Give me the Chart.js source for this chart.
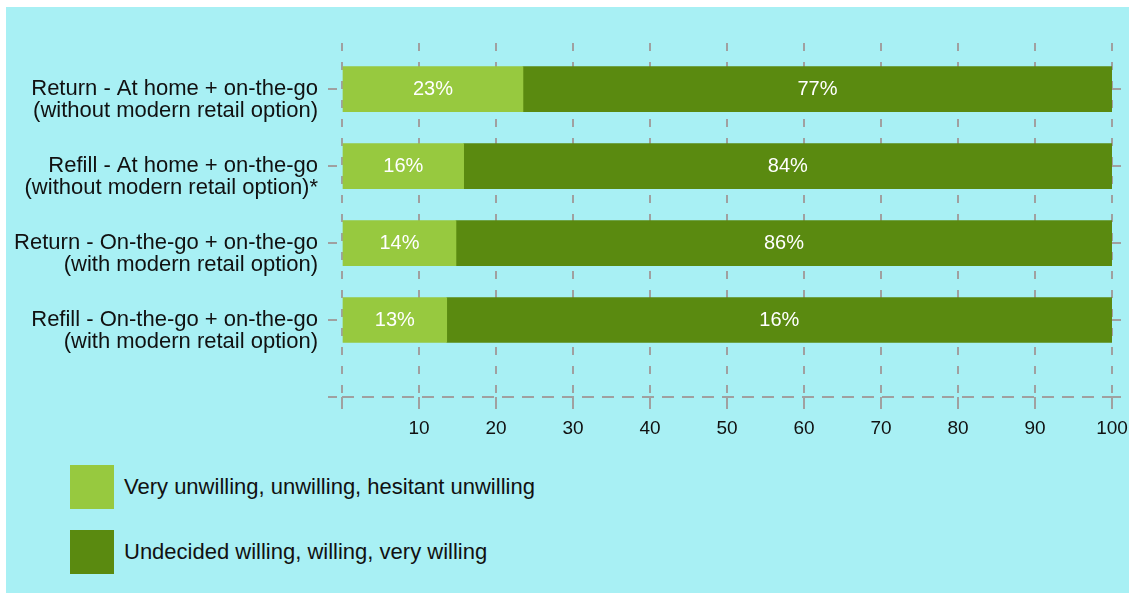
<!DOCTYPE html>
<html>
<head>
<meta charset="utf-8">
<script src="https://cdn.jsdelivr.net/npm/chart.js@4/dist/chart.umd.min.js"></script>
<style>
	body { margin: 0; background: #fff; }
	#panel {
		position: absolute; left: 6px; top: 7px; width: 1123px; height: 586px;
		background: #a8f0f4; font-family: "Liberation Sans", Arial, sans-serif;
	}
	#chart-cont { position: absolute; left: 0; top: 0; width: 1123px; height: 440px; }
	#legend { position: absolute; left: 64px; top: 458px; list-style: none; margin: 0; padding: 0; }
	#legend li { display: flex; align-items: center; height: 44px; margin-bottom: 21px; font-size: 22px; color: #111; }
	#legend .swatch { width: 44px; height: 44px; margin-right: 10px; }
</style>
</head>
<body>
<div id="panel">
	<div id="chart-cont"><canvas id="chart"></canvas></div>
	<ul id="legend"></ul>
</div>
<script>
const categories = [
	['Return - At home + on-the-go', '(without modern retail option)'],
	['Refill - At home + on-the-go', '(without modern retail option)*'],
	['Return - On-the-go + on-the-go', '(with modern retail option)'],
	['Refill - On-the-go + on-the-go', '(with modern retail option)'],
]
const seriesNames = ['Very unwilling, unwilling, hesitant unwilling', 'Undecided willing, willing, very willing']
const unwillingValues = [23.5, 15.8, 14.8, 13.6]
const willingValues = [76.5, 84.2, 85.2, 86.4]
// labels as printed on the bars (last one reads 16% in the source)
const unwillingLabels = ['23%', '16%', '14%', '13%']
const willingLabels = ['77%', '84%', '86%', '16%']
const xTicks = [0, 10, 20, 30, 40, 50, 60, 70, 80, 90, 100]
const colors = ['#97c93f', '#5a8a10']

const grey = '#a0a0a0'
const font = "'Liberation Sans', Arial, sans-serif"

const toPoints = vals => vals.map((v, i) => ({x: v, y: i}))
const catTicks = axis => {
	axis.ticks = categories.map((c, i) => ({value: i})).concat([{value: categories.length}])
}

const barLabels = {
	id: 'barLabels',
	afterDatasetsDraw(chart) {
		const ctx = chart.ctx
		const texts = [unwillingLabels, willingLabels]
		ctx.save()
		ctx.fillStyle = '#fff'
		ctx.font = '20px ' + font
		ctx.textAlign = 'center'
		ctx.textBaseline = 'middle'
		chart.data.datasets.forEach((ds, d) => {
			chart.getDatasetMeta(d).data.forEach((bar, i) => {
				const p = bar.getCenterPoint()
				ctx.fillText(texts[d][i], p.x, p.y)
			})
		})
		ctx.restore()
	}
}

const chart = new Chart(document.getElementById('chart'), {
	type: 'bar',
	data: {
		datasets: [
			{label: seriesNames[0], data: toPoints(unwillingValues), backgroundColor: colors[0]},
			{label: seriesNames[1], data: toPoints(willingValues), backgroundColor: colors[1]},
		]
	},
	options: {
		indexAxis: 'y',
		responsive: true,
		maintainAspectRatio: false,
		animation: false,
		barThickness: 45,
		layout: {padding: {top: 36, left: 0, right: 0, bottom: 0}},
		plugins: {legend: {display: false}, tooltip: {enabled: false}},
		scales: {
			x: {
				type: 'linear',
				stacked: true,
				min: 0,
				max: 100,
				afterBuildTicks: axis => { axis.ticks = xTicks.map(v => ({value: v})) },
				afterFit: axis => {
					axis.height = 50
					axis.paddingLeft = 0
					axis.paddingRight = 0
				},
				ticks: {
					callback: v => v === 0 ? '' : v,
					color: '#111',
					padding: 5,
					font: {family: font, size: 19}
				},
				grid: {color: grey, lineWidth: 2, tickLength: 15, tickBorderDash: [12, 4], tickColor: grey},
				border: {display: false, dash: [8, 11]}
			},
			y: {
				type: 'linear',
				stacked: true,
				reverse: true,
				offset: false,
				min: -0.6,
				max: 4,
				afterBuildTicks: catTicks,
				afterFit: axis => { axis.width = 336 },
				ticks: {
					callback: v => categories[v] || '',
					color: '#111',
					padding: 10,
					labelOffset: 11,
					font: {family: font, size: 22, lineHeight: 1.0}
				},
				grid: {
					offset: false,
					color: ctx => ctx.tick && ctx.tick.value === categories.length ? grey : 'transparent',
					tickColor: grey,
					lineWidth: 2,
					tickLength: 14,
					tickBorderDash: [9, 5]
				},
				border: {display: false, dash: [12, 8]}
			},
			y2: {
				type: 'linear',
				position: 'right',
				reverse: true,
				offset: false,
				min: -0.6,
				max: 4,
				afterBuildTicks: catTicks,
				afterFit: axis => { axis.width = 17 },
				ticks: {display: false},
				grid: {offset: false, drawOnChartArea: false, tickColor: grey, lineWidth: 2, tickLength: 14, tickBorderDash: [9, 5]},
				border: {display: false}
			}
		}
	},
	plugins: [barLabels]
})

// legend built from the datasets
const legend = document.getElementById('legend')
chart.data.datasets.forEach(ds => {
	const li = document.createElement('li')
	const sw = document.createElement('span')
	sw.className = 'swatch'
	sw.style.background = ds.backgroundColor
	li.appendChild(sw)
	li.appendChild(document.createTextNode(ds.label))
	legend.appendChild(li)
})
</script>
</body>
</html>
